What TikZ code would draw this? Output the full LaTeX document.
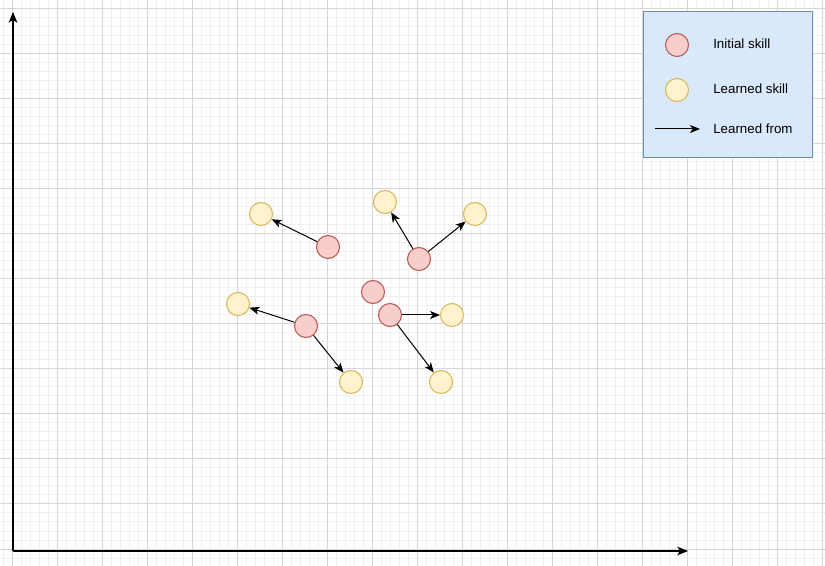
\documentclass[tikz,border=0pt]{standalone}
\usepackage{fontspec}
\setmainfont{Liberation Sans}
\usetikzlibrary{arrows.meta}
\definecolor{initfill}{HTML}{F8CECC}
\definecolor{initline}{HTML}{B85450}
\definecolor{learnfill}{HTML}{FFF2CC}
\definecolor{learnline}{HTML}{D6B656}
\definecolor{keyfill}{HTML}{DAE8FC}
\definecolor{keyline}{HTML}{6C8EBF}
\definecolor{minorgrid}{HTML}{F0F0F0}
\definecolor{majorgrid}{HTML}{D6D6D6}
\tikzset{
  skill/.style={circle,inner sep=0pt,minimum size=17.25pt,line width=0.75pt},
  initial/.style={skill,draw=initline,fill=initfill},
  learned/.style={skill,draw=learnline,fill=learnfill},
  learn/.style={-{Stealth[length=7.5pt,width=6pt,inset=2pt]},line width=0.75pt},
  axis/.style={-{Stealth[length=8pt,width=6.5pt,inset=2pt]},line width=1pt},
  keytext/.style={anchor=west,inner sep=0pt,font=\fontsize{10}{12}\selectfont}
}
\begin{document}
\begin{tikzpicture}[x=0.75pt,y=-0.75pt]
  \useasboundingbox (0,0) rectangle (825,566);
  \fill[white] (0,0) rectangle (825,566);
  % grid
  \begin{scope}
    \clip (0,0) rectangle (825,566);
    \foreach \x in {3,12,...,822} \draw[minorgrid,line width=0.75pt] (\x,0) -- (\x,566);
    \foreach \y in {0,9,...,566} \draw[minorgrid,line width=0.75pt] (0,\y) -- (825,\y);
    \foreach \x in {12,57,...,822} \draw[majorgrid,line width=0.75pt] (\x,0) -- (\x,566);
    \foreach \y in {9,54,...,566} \draw[majorgrid,line width=0.75pt] (0,\y) -- (825,\y);
  \end{scope}
  % axes
  \coordinate (orig) at (13,551);
  \coordinate (ytop) at (13,12);
  \coordinate (xend) at (688,551);
  \draw[axis] (orig) -- (ytop);
  \draw[axis] (orig) -- (xend);
  % skills
  \node[initial] (ia) at (328,247) {};
  \node[initial] (ib) at (419,259) {};
  \node[initial] (ic) at (373,292) {};
  \node[initial] (id) at (390,315) {};
  \node[initial] (ie) at (306,326) {};
  \node[learned] (la) at (261,214) {};
  \node[learned] (lb) at (385,202) {};
  \node[learned] (lc) at (475,214) {};
  \node[learned] (ld) at (452,315) {};
  \node[learned] (le) at (441,382) {};
  \node[learned] (lf) at (238,304) {};
  \node[learned] (lg) at (351,382) {};
  \draw[learn] (ia) -- (la);
  \draw[learn] (ib) -- (lb);
  \draw[learn] (ib) -- (lc);
  \draw[learn] (id) -- (ld);
  \draw[learn] (id) -- (le);
  \draw[learn] (ie) -- (lf);
  \draw[learn] (ie) -- (lg);
  % legend
  \draw[keyline,fill=keyfill,line width=0.75pt] (643,12) rectangle (812,158);
  \node[initial] (keyinit) at (677,45) {};
  \node[learned] (keylearn) at (677,90) {};
  \coordinate (keyfrom) at (655,129);
  \coordinate (keyto) at (700,129);
  \draw[learn] (keyfrom) -- (keyto);
  \node[keytext] (tinit) at (713,44) {Initial skill};
  \node[keytext] (tlearn) at (713,89) {Learned skill};
  \node[keytext] (tfrom) at (713,129) {Learned from};
\end{tikzpicture}
\end{document}
